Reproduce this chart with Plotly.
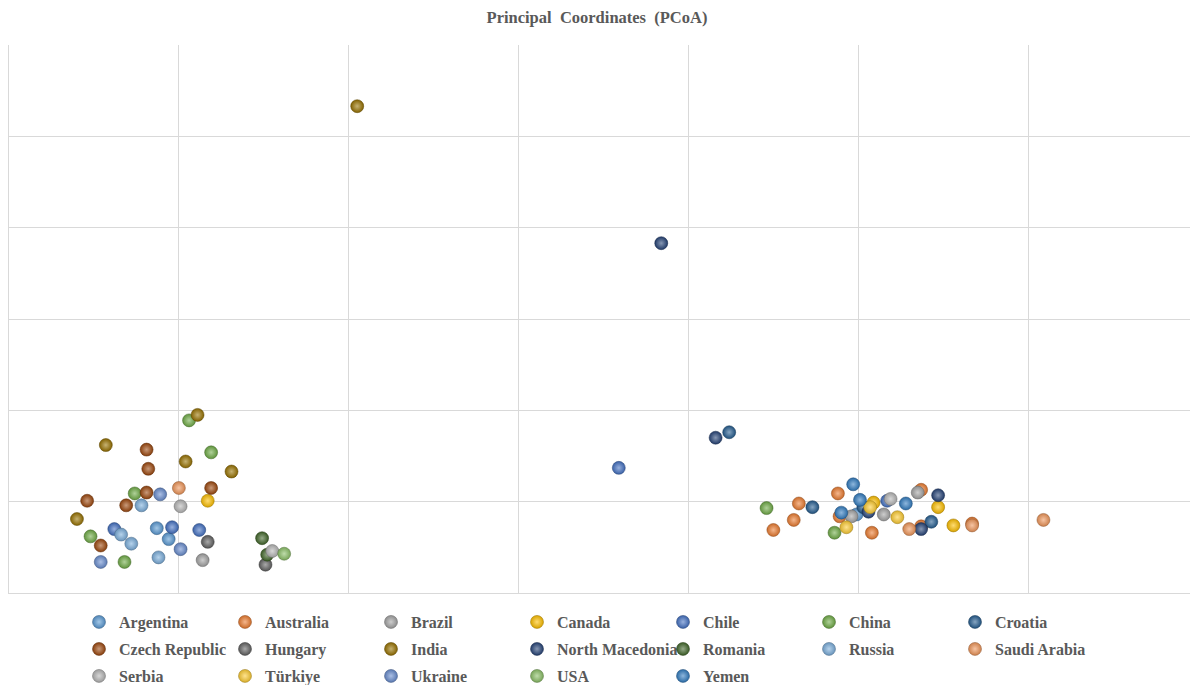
import plotly.graph_objects as go

# ---- data (PCoA axis 1 / axis 2) ----
countries = ["Argentina", "Australia", "Brazil", "Canada", "Chile", "China", "Croatia",
             "Czech Republic", "Hungary", "India", "North Macedonia", "Romania", "Russia", "Saudi Arabia",
             "Serbia", "Türkiye", "Ukraine", "USA", "Yemen"]

argentina_x = [-0.213, -0.206, 0.199]
argentina_y = [-0.029, -0.041, -0.014]
australia_x = [0.150, 0.162, 0.165, 0.188, 0.189, 0.208, 0.237, 0.237, 0.267]
australia_y = [-0.031, -0.020, -0.002, 0.009, -0.016, -0.034, -0.027, 0.013, -0.024]
brazil_x = [-0.186, 0.196, 0.215, 0.235]
brazil_y = [-0.064, -0.016, -0.014, 0.010]
canada_x = [-0.183, 0.209, 0.247, 0.256]
canada_y = [0.001, -0.001, -0.006, -0.026]
chile_x = [-0.238, -0.204, -0.188, 0.059, 0.217]
chile_y = [-0.030, -0.028, -0.031, 0.037, 0.001]
china_x = [-0.194, -0.181, -0.226, -0.252, -0.232, 0.146, 0.186]
china_y = [0.089, 0.054, 0.009, -0.038, -0.066, -0.007, -0.034]
croatia_x = [0.124, 0.173, 0.203, 0.243]
croatia_y = [0.076, -0.006, -0.006, -0.022]
czech_x = [-0.219, -0.218, -0.181, -0.219, -0.254, -0.231, -0.246]
czech_y = [0.057, 0.036, 0.015, 0.010, 0.001, -0.004, -0.048]
hungary_x = [-0.183, -0.149]
hungary_y = [-0.044, -0.069]
india_x = [-0.189, -0.243, -0.196, -0.169, -0.260, -0.095]
india_y = [0.095, 0.062, 0.044, 0.033, -0.019, 0.433]
macedonia_x = [0.084, 0.116, 0.206, 0.237, 0.247]
macedonia_y = [0.283, 0.070, -0.011, -0.030, 0.007]
romania_x = [-0.151, -0.148]
romania_y = [-0.040, -0.058]
russia_x = [-0.222, -0.234, -0.228, -0.212]
russia_y = [-0.004, -0.036, -0.046, -0.061]
saudi_x = [-0.200, 0.230, 0.267, 0.309]
saudi_y = [0.015, -0.030, -0.026, -0.020]
serbia_x = [-0.199, -0.145, 0.219]
serbia_y = [-0.005, -0.054, 0.003]
turkiye_x = [0.193, 0.207, 0.223]
turkiye_y = [-0.028, -0.006, -0.017]
ukraine_x = [-0.211, -0.199, -0.246]
ukraine_y = [0.008, -0.052, -0.066]
usa_x = [-0.138]
usa_y = [-0.057]
yemen_x = [0.197, 0.190, 0.201, 0.228]
yemen_y = [0.019, -0.012, 0.002, -0.002]

series_x = [argentina_x, australia_x, brazil_x, canada_x, chile_x, china_x, croatia_x,
            czech_x, hungary_x, india_x, macedonia_x, romania_x, russia_x, saudi_x,
            serbia_x, turkiye_x, ukraine_x, usa_x, yemen_x]
series_y = [argentina_y, australia_y, brazil_y, canada_y, chile_y, china_y, croatia_y,
            czech_y, hungary_y, india_y, macedonia_y, romania_y, russia_y, saudi_y,
            serbia_y, turkiye_y, ukraine_y, usa_y, yemen_y]

# ---- styles ----
colors = ["#5B9BD5", "#ED7D31", "#A5A5A5", "#FFC000", "#4472C4", "#70AD47", "#255E91",
          "#9E480E", "#636363", "#997300", "#264478", "#43682B", "#7CAFDD", "#F1975A",
          "#B7B7B7", "#FFCD33", "#698ED0", "#8CC168", "#327DC2"]
legend_rows = ["legend"] * 7 + ["legend2"] * 7 + ["legend3"] * 5


def shade(hexc, f):
    r, g, b = int(hexc[1:3], 16), int(hexc[3:5], 16), int(hexc[5:7], 16)
    if f >= 0:
        r, g, b = [int(c + (255 - c) * f) for c in (r, g, b)]
    else:
        r, g, b = [int(c * (1 + f)) for c in (r, g, b)]
    return "#%02x%02x%02x" % (r, g, b)


fig = go.Figure()
for name, xs, ys, col, lg in zip(countries, series_x, series_y, colors, legend_rows):
    fig.add_trace(go.Scatter(
        x=xs, y=ys, mode="markers", name=name, legend=lg,
        marker=dict(size=13, color=shade(col, -0.15),
                    gradient=dict(type="radial", color=shade(col, 0.45)),
                    line=dict(width=0.5, color=shade(col, -0.4))),
    ))

# the page body adds an 8px offset; figure coordinates below are shifted accordingly
OFF = 8
W, H = 1198, 685
font_family = "Times New Roman, Liberation Serif, serif"
legend_common = dict(orientation="h", xref="container", yref="container",
                     xanchor="left", yanchor="middle", x=(99 - OFF - 20) / W,
                     entrywidth=101, entrywidthmode="pixels", itemwidth=30,
                     bgcolor="rgba(0,0,0,0)", borderwidth=0,
                     font=dict(family=font_family, size=16, color="#595959", weight="bold"))

fig.update_layout(
    width=W, height=H,
    margin=dict(l=9 - OFF, r=OFF, t=45 - OFF, b=H - (593 - OFF)),
    paper_bgcolor="white", plot_bgcolor="white",
    title=dict(text="Principal  Coordinates  (PCoA)", x=(597 - OFF) / W, xref="container", xanchor="center",
               y=1 - (17 - OFF) / H, yref="container", yanchor="middle",
               font=dict(family=font_family, size=16.5, color="#595959", weight="bold")),
    xaxis=dict(range=[-0.3, 0.4], dtick=0.1, tick0=0, showticklabels=False, ticks="",
               showgrid=True, gridcolor="#D9D9D9", gridwidth=1, zeroline=False,
               showline=True, linecolor="#D9D9D9", linewidth=1),
    yaxis=dict(range=[-0.1, 0.5], dtick=0.1, tick0=0, showticklabels=False, ticks="",
               showgrid=True, gridcolor="#D9D9D9", gridwidth=1, zeroline=False,
               showline=True, linecolor="#D9D9D9", linewidth=1),
    legend=dict(**legend_common, y=1 - (622 - OFF) / H),
    legend2=dict(**legend_common, y=1 - (649 - OFF) / H),
    legend3=dict(**legend_common, y=1 - (676 - OFF) / H),
)

fig.write_html("out.html")
